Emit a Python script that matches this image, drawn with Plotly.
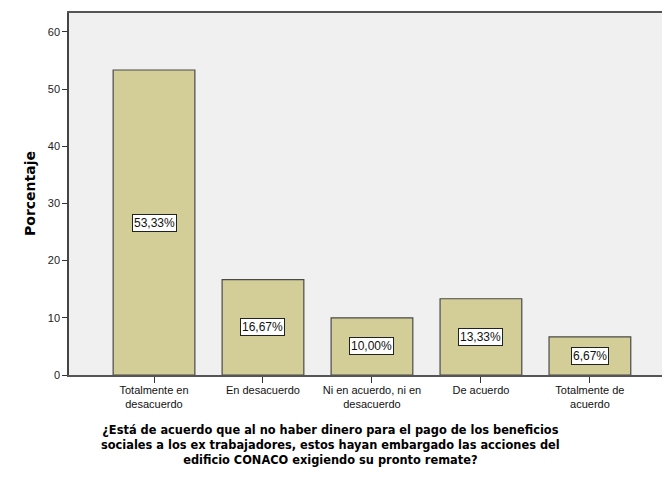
import plotly.graph_objects as go

categories = ["Totalmente en<br>desacuerdo", "En desacuerdo", "Ni en acuerdo, ni en<br>desacuerdo",
              "De acuerdo", "Totalmente de<br>acuerdo"]
values = [53.33, 16.67, 10.00, 13.33, 6.67]
labels = ["53,33%", "16,67%", "10,00%", "13,33%", "6,67%"]
y_ticks = [0, 10, 20, 30, 40, 50, 60]

# page body has an 8px margin, so the figure is a little smaller than the window
W, H = 662, 470
ml, mt, mb, mr = 61, 5, 103, 0

fig = go.Figure()
fig.add_trace(go.Bar(
    x=list(range(len(categories))), y=values, width=0.75,
    marker=dict(color="#d3ce97", line=dict(color="#4a4a4a", width=1.2)),
    hoverinfo="skip",
))

for i, (v, lab) in enumerate(zip(values, labels)):
    fig.add_annotation(x=i, y=v / 2, xref="x", yref="y", text=lab, showarrow=False,
                       font=dict(family="Liberation Sans, Arial", size=12, color="#111"),
                       bgcolor="white", bordercolor="#222", borderwidth=1, borderpad=1)

fig.add_annotation(xref="paper", yref="paper", x=-(61 - 22) / (W - ml - mr), y=0.5,
                   text="<b>Porcentaje</b>",
                   textangle=-90, showarrow=False, xanchor="center", yanchor="middle",
                   font=dict(family="DejaVu Sans", size=14, color="black"))

fig.add_annotation(xref="paper", yref="paper", x=(322 - ml) / (W - ml - mr), y=0,
                   yshift=-46, yanchor="top", xanchor="center", showarrow=False, align="center",
                   text="<b>¿Está de acuerdo que al no haber dinero para el pago de los beneficios<br>"
                        "sociales a los ex trabajadores, estos hayan embargado las acciones del<br>"
                        "edificio CONACO exigiendo su pronto remate?</b>",
                   font=dict(family="DejaVu Sans", size=11.4, color="black"))

fig.update_layout(
    width=W, height=H,
    margin=dict(l=ml, r=mr, t=mt, b=mb),
    paper_bgcolor="white", plot_bgcolor="#f0f0f0",
    showlegend=False,
    xaxis=dict(range=[-0.78, 4.735], tickmode="array", tickvals=list(range(len(categories))),
               ticktext=categories, ticks="outside", ticklen=6, tickcolor="#333",
               ticklabelstandoff=-2,
               showline=True, linecolor="#555", linewidth=1.6, mirror=True,
               showgrid=False, zeroline=False,
               tickfont=dict(family="Liberation Sans, Arial", size=11, color="#111")),
    yaxis=dict(range=[0, 63.3], tickmode="array", tickvals=y_ticks,
               ticks="outside", ticklen=5, tickcolor="#333",
               showline=True, linecolor="#444", linewidth=1.5, mirror=False,
               showgrid=False, zeroline=False,
               tickfont=dict(family="Liberation Sans, Arial", size=11, color="#222")),
)

fig.write_html("out.html")
